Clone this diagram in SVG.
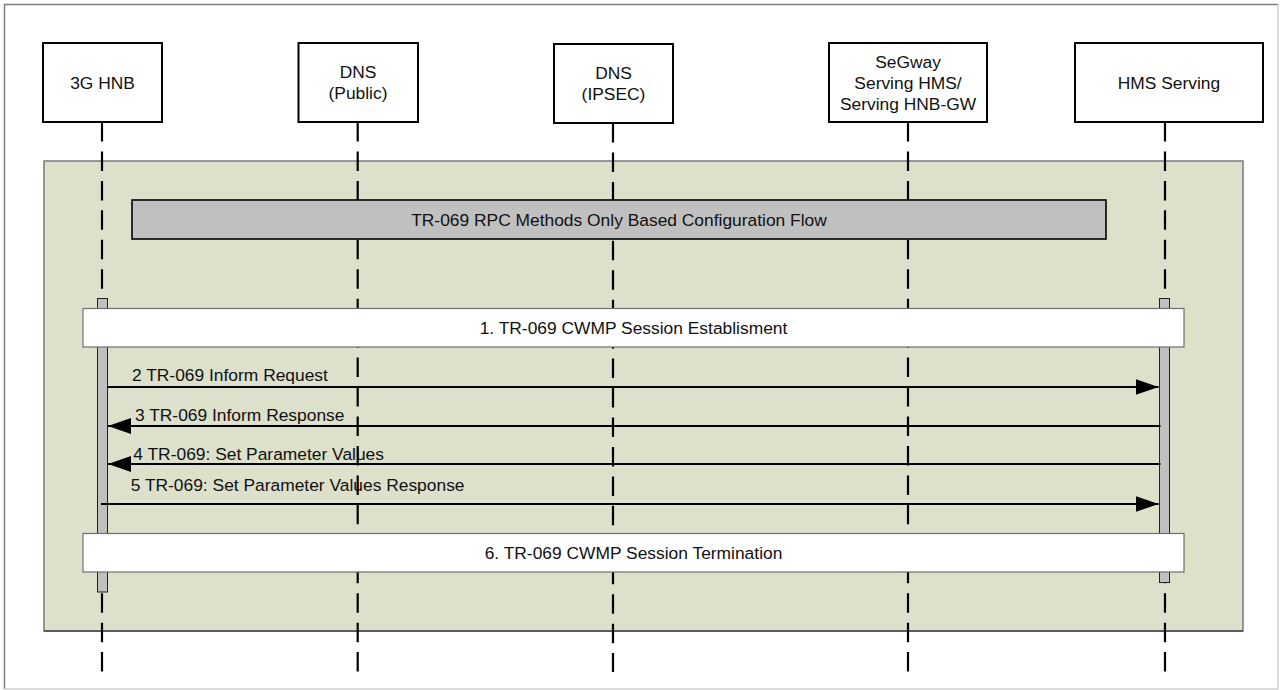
<svg xmlns="http://www.w3.org/2000/svg" width="1282" height="690" viewBox="0 0 1282 690">
<defs>
<style>
text{font-family:"Liberation Sans",Arial,sans-serif;font-size:17.4px;fill:#111;}
.c{text-anchor:middle;}
.node{fill:#fff;stroke:#000;stroke-width:2;}
.life{stroke:#000;stroke-width:2.2;stroke-dasharray:19.5 9.95;fill:none;}
.act{fill:#c0c0c0;stroke:#222;stroke-width:1;}
.sess{fill:#fff;stroke:#6e6e6e;stroke-width:1.2;}
.msg{stroke:#000;stroke-width:2;fill:none;}
</style>
<marker id="ah" viewBox="0 0 23 16" refX="23" refY="8" markerWidth="23" markerHeight="16" markerUnits="userSpaceOnUse" orient="auto">
<path d="M0,0 L23,8 L0,16 Z" fill="#000"/>
</marker>
</defs>
<rect x="0" y="0" width="1282" height="690" fill="#fff"/>
<path d="M4.5,689 L4.5,4.5 L1278,4.5" fill="none" stroke="#7f7f7f" stroke-width="1.5"/>
<path d="M1278,4.5 L1278,689 L4.5,689" fill="none" stroke="#cfcfcf" stroke-width="1.5"/>

<g id="frame">
<rect x="44" y="161" width="1199" height="470" fill="#dde0cb" stroke="#7a7a7a" stroke-width="1.5"/>
<line x1="44" y1="631" x2="1243" y2="631" stroke="#222" stroke-width="1.2"/>
</g>

<g id="lifelines">
<line class="life" x1="102" y1="122" x2="102" y2="672"/>
<line class="life" x1="357.7" y1="122" x2="357.7" y2="672"/>
<line class="life" x1="613" y1="123" x2="613" y2="672"/>
<line class="life" x1="908" y1="122" x2="908" y2="672"/>
<line class="life" x1="1165" y1="122" x2="1165" y2="672"/>
</g>

<g id="node-3g-hnb">
<rect class="node" x="43" y="43" width="119" height="79"/>
<text class="c" x="102.5" y="89">3G HNB</text>
</g>
<g id="node-dns-public">
<rect class="node" x="298.5" y="43" width="119.5" height="79"/>
<text class="c" x="358" y="78">DNS</text>
<text class="c" x="358" y="99">(Public)</text>
</g>
<g id="node-dns-ipsec">
<rect class="node" x="554" y="44" width="119" height="79"/>
<text class="c" x="613.5" y="79">DNS</text>
<text class="c" x="613.5" y="100">(IPSEC)</text>
</g>
<g id="node-segway">
<rect class="node" x="829" y="43" width="158" height="79"/>
<text class="c" x="908" y="68">SeGway</text>
<text class="c" x="908" y="89">Serving HMS/</text>
<text class="c" x="908" y="110">Serving HNB-GW</text>
</g>
<g id="node-hms-serving">
<rect class="node" x="1075" y="43" width="188" height="79"/>
<text class="c" x="1169" y="89">HMS Serving</text>
</g>

<g id="title-bar">
<rect x="132" y="200" width="974" height="39" fill="#c0c0c0" stroke="#000" stroke-width="1.6"/>
<text class="c" x="619" y="225.5">TR-069 RPC Methods Only Based Configuration Flow</text>
</g>

<g id="activations">
<rect class="act" x="97.5" y="298.5" width="10" height="293.5"/>
<rect class="act" x="1159.5" y="298.5" width="10" height="284"/>
</g>

<g id="session-establish">
<rect class="sess" x="83" y="308.5" width="1101" height="38.5"/>
<text class="c" x="633.5" y="333.5">1. TR-069 CWMP Session Establisment</text>
</g>
<g id="session-terminate">
<rect class="sess" x="83" y="533.5" width="1101" height="38.5"/>
<text class="c" x="633.5" y="558.5">6. TR-069 CWMP Session Termination</text>
</g>

<g id="connectors">
<line class="msg" x1="107.5" y1="387" x2="1158.5" y2="387" marker-end="url(#ah)"/>
<line class="msg" x1="1160.5" y1="426" x2="108" y2="426" marker-end="url(#ah)"/>
<line class="msg" x1="1160.5" y1="464" x2="108" y2="464" marker-end="url(#ah)"/>
<line class="msg" x1="101" y1="504" x2="1158.5" y2="504" marker-end="url(#ah)"/>
</g>
<g id="connector-labels">
<text x="132" y="381">2 TR-069 Inform Request</text>
<text x="135" y="421">3 TR-069 Inform Response</text>
<text x="133.3" y="460">4 TR-069: Set Parameter Values</text>
<text x="130.7" y="491">5 TR-069: Set Parameter Values Response</text>
</g>
</svg>
